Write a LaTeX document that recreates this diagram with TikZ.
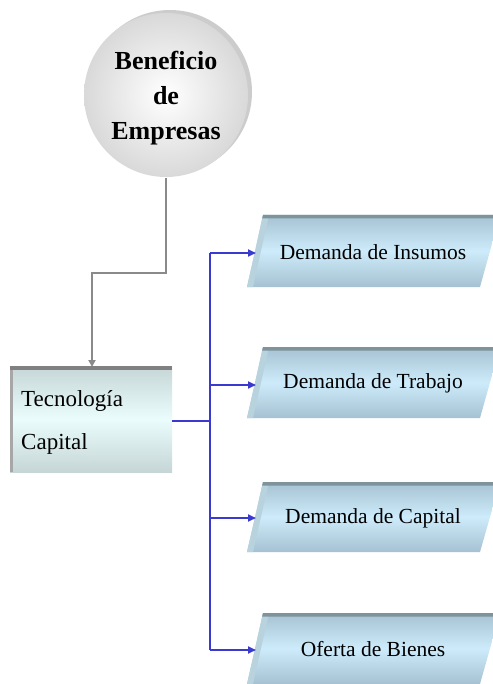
\documentclass[tikz,border=0pt]{standalone}
\usepackage{fontspec}
\setmainfont{Liberation Serif}
\usetikzlibrary{arrows.meta}
\definecolor{grayline}{HTML}{8A8A8A}
\definecolor{blueline}{HTML}{3A3AD0}
\definecolor{parmid}{HTML}{CDEBFA}
\definecolor{paredge}{HTML}{A6C2D2}
\definecolor{partop}{HTML}{7E939C}
\definecolor{parbevel}{HTML}{B9D3DE}
\definecolor{boxmid}{HTML}{EAFCFC}
\definecolor{boxedge}{HTML}{C6D6D6}
\tikzset{
  grayconn/.style={draw=grayline, line width=1.8pt, -{Triangle[length=7pt,width=7pt]}},
  blueconn/.style={draw=blueline, line width=1.8pt},
  bluearrow/.style={blueconn, -{Triangle[length=8pt,width=7pt]}},
  partext/.style={font=\fontsize{21.5}{24}\selectfont, text=black, inner sep=0pt},
}
\begin{document}
\begin{tikzpicture}[x=1pt,y=-1pt]
\useasboundingbox (0,0) rectangle (492,684);
% circle
\fill[gray!40] (170,92) circle (82);
\shade[inner color=white, outer color=gray!30] (166,95) circle (82);
\node[align=center, font=\bfseries\fontsize{26}{35}\selectfont, inner sep=0pt] (ben) at (166,98) {Beneficio\\de\\Empresas};
\coordinate (cb) at (166,178);
% Tecnologia box
\shade[top color=boxedge, bottom color=boxedge, middle color=boxmid] (10,366) rectangle (172,472);
\fill[gray!85!black!60] (10,366) rectangle (13,472);
\fill[gray] (10,366) rectangle (172,369.5);
\node[inner sep=0pt, minimum width=162pt, minimum height=106pt] (tec) at (91,419) {};
\node[anchor=west, align=left, font=\fontsize{23}{43}\selectfont, inner sep=0pt] (tectext) at (21,422) {Tecnología\\Capital};
\coordinate (tectop) at (92,367);
% gray connector
\draw[grayconn] (cb) |- (92,273) -- (tectop);
% parallelograms
\foreach \n/\yt/\yb/\ya/\txt in {1/215/287/253/{Demanda de Insumos},2/347/418/385/{Demanda de Trabajo},3/482/552/518/{Demanda de Capital},4/613/684/650/{Oferta de Bienes}}{
  \shade[top color=paredge, bottom color=paredge, middle color=parmid] (263,\yt) -- (500,\yt) -- (480,\yb) -- (247,\yb) -- cycle;
  \fill[parbevel] (263,\yt) -- (269,\yt) -- (253,\yb) -- (247,\yb) -- cycle;
  \fill[partop] (263,\yt) -- (500,\yt) -- (500,\yt+3.5) -- (262.2,\yt+3.5) -- cycle;
  \node[partext] (p\n) at (373,{(\yt+\yb)/2+1}) {\txt};
  \coordinate (pl\n) at (256,\ya);
  \coordinate (b\n) at (210,\ya);
}
% blue connectors
\coordinate (tr) at (172,421);
\coordinate (bus) at (210,421);
\draw[blueconn] (tr) -- (bus);
\draw[blueconn] (b1) -- (b4);
\draw[bluearrow] (b1) -- (pl1);
\draw[bluearrow] (b2) -- (pl2);
\draw[bluearrow] (b3) -- (pl3);
\draw[bluearrow] (b4) -- (pl4);
\end{tikzpicture}
\end{document}
